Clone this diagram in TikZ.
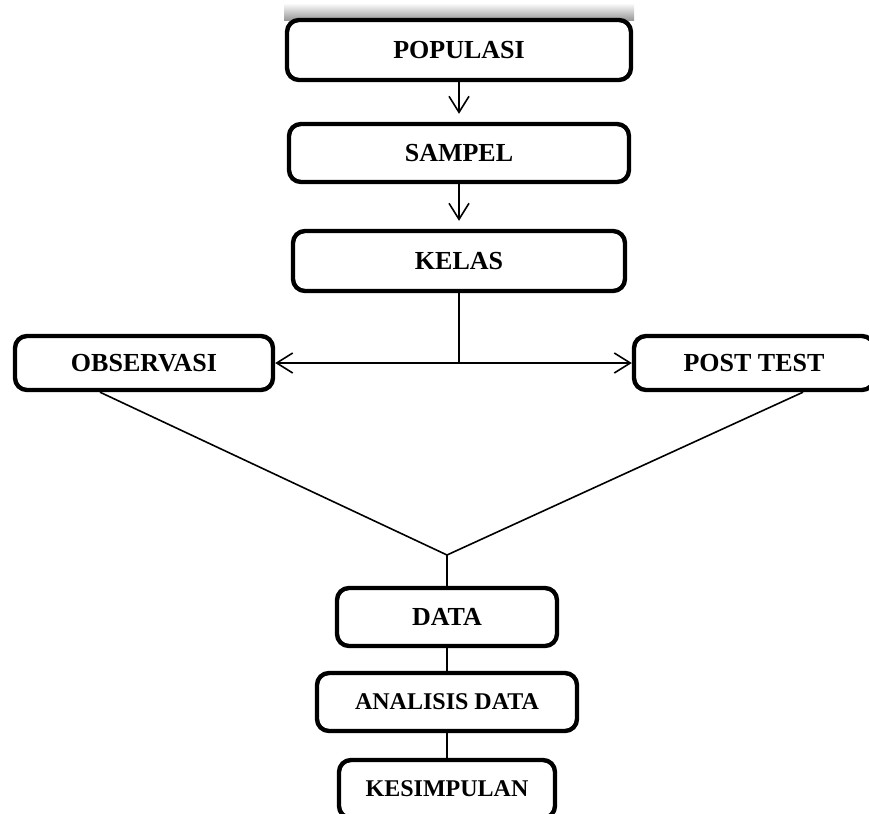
\documentclass[tikz,border=0pt]{standalone}
\usepackage{fontspec}
\setmainfont{Liberation Serif}
\usepackage{tikz}
\usetikzlibrary{arrows.meta, calc}

\begin{document}
\begin{tikzpicture}[
            x=0.5pt, y=-0.5pt,
            box/.style={rectangle, rounded corners=6pt, draw, line width=2.2pt,
                        minimum height=29pt, align=center,
                        font=\fontsize{13}{15}\selectfont\bfseries},
            smallbox/.style={box, font=\fontsize{12}{14}\selectfont\bfseries},
            arr/.style={-{Straight Barb[length=8pt, width=10pt]}, line width=0.8pt},
            link/.style={line width=0.8pt}
          ]
          \useasboundingbox (0,0) rectangle (869,814);

          % faint shade on top of the first box
          \shade[top color=white, bottom color=gray!80] (284,3) rectangle (634,20);

          % main column
          \node[box, fill=white, minimum width=172pt, minimum height=30pt] (pop) at (459, 50)
                {POPULASI};
          \node[box, minimum width=170pt] (sam) at (459, 153)
                {SAMPEL};
          \node[box, minimum width=166pt, minimum height=30pt] (kel) at (459, 261)
                {KELAS};
          \draw[arr, shorten >=4pt] (pop) -- (sam);
          \draw[arr, shorten >=4pt] (sam) -- (kel);

          % split to both sides
          \node[box, minimum width=129pt, minimum height=27pt] (obs)  at (144, 363)
                {OBSERVASI};
          \node[box, minimum width=120pt, minimum height=27pt] (post) at (754, 363)
                {POST TEST};
          \coordinate (split) at (kel.south |- obs.east);
          \draw[link] (kel) -- (split);
          \draw[arr] (split) -- (obs.east);
          \draw[arr] (split) -- (post.west);

          % merge again
          \coordinate (join) at (447, 555);
          \draw[link] (obs.south -| 100,0) -- (join);
          \draw[link] (post.south -| 803,0) -- (join);

          % last column
          \node[box, minimum width=110pt] (data) at (447, 617)
                {DATA};
          \node[smallbox, minimum width=130pt] (ana) at (447, 702)
                {ANALISIS DATA};
          \node[smallbox, minimum width=108pt] (kes) at (447, 789)
                {KESIMPULAN};
          \draw[link] (join) -- (data);
          \draw[link] (data) -- (ana);
          \draw[link] (ana) -- (kes);
        \end{tikzpicture}
\end{document}
